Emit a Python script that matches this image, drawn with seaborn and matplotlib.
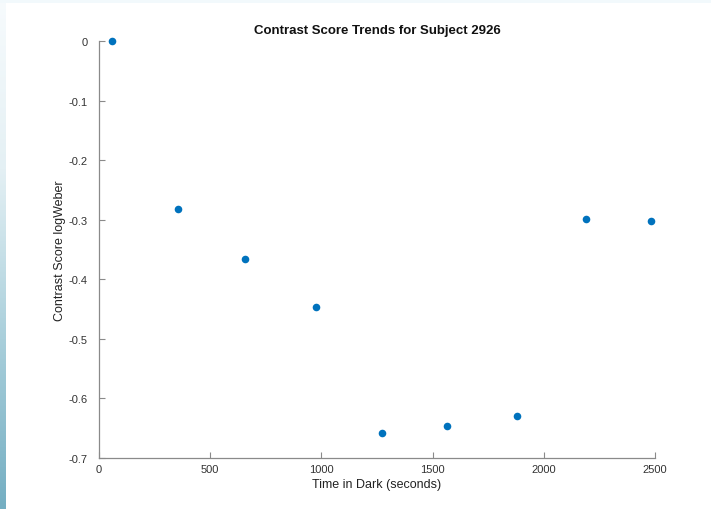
import numpy as np
import pandas as pd
import matplotlib
matplotlib.use("Agg")
import matplotlib.pyplot as plt
import seaborn as sns
from matplotlib.colors import LinearSegmentedColormap

time_s = [58, 355, 656, 976, 1272, 1565, 1880, 2190, 2482]
score = [0.0, -0.282, -0.366, -0.446, -0.658, -0.646, -0.629, -0.299, -0.302]
x_ticks = [0, 500, 1000, 1500, 2000, 2500]
y_ticks = [0, -0.1, -0.2, -0.3, -0.4, -0.5, -0.6, -0.7]
y_tick_labels = ["0", "-0.1", "-0.2", "-0.3", "-0.4", "-0.5", "-0.6", "-0.7"]

df = pd.DataFrame({"time": time_s, "score": score})

sns.set_theme(style="ticks")
plt.rcParams["font.family"] = ["Liberation Sans", "DejaVu Sans"]

fig = plt.figure(figsize=(7.11, 5.10), dpi=100)
fig.patch.set_facecolor("white")

# decorative slide background strips
strip = fig.add_axes([0, 0, 6 / 711, 1])
grad = np.linspace(0, 1, 256).reshape(-1, 1)
cmap = LinearSegmentedColormap.from_list("g", ["#f7fbfd", "#e4f0f4", "#a9cfdb", "#74aec2"])
strip.imshow(grad, aspect="auto", cmap=cmap, origin="upper")
strip.axis("off")
top = fig.add_axes([0, 1 - 4 / 510, 1, 4 / 510])
top.axis("off")
top.add_patch(plt.Rectangle((0, 0), 1, 1, color="#f2f9fc", transform=top.transAxes))

ax = fig.add_axes([99 / 711, 51 / 510, (655 - 99) / 711, (459 - 42) / 510])
ax.set_facecolor("white")
sns.scatterplot(data=df, x="time", y="score", ax=ax, color="#0072BD",
                s=30, edgecolor="#0072BD", linewidth=0, clip_on=False, zorder=5)

ax.set_xlim(0, 2500)
ax.set_ylim(-0.7, 0)
ax.set_xticks(x_ticks)
ax.set_xticklabels([str(t) for t in x_ticks])
ax.set_yticks(y_ticks)
ax.set_yticklabels(y_tick_labels)

for side in ["top", "right"]:
    ax.spines[side].set_visible(False)
for side in ["left", "bottom"]:
    ax.spines[side].set_color("#8a8a8a")
    ax.spines[side].set_linewidth(0.9)
ax.tick_params(axis="both", direction="in", length=4, width=0.8,
               color="#8a8a8a", labelsize=8, labelcolor="#333333")
ax.tick_params(axis="y", pad=8)
ax.tick_params(axis="x", pad=4)

ax.set_xlabel("Time in Dark (seconds)", fontsize=9, color="#222222", labelpad=3)
ax.set_ylabel("Contrast Score logWeber", fontsize=9, color="#222222", labelpad=2)
ax.set_title("Contrast Score Trends for Subject 2926", fontsize=9.5,
             fontweight="bold", color="#111111", pad=6)

fig.savefig("out.png", dpi=100)
